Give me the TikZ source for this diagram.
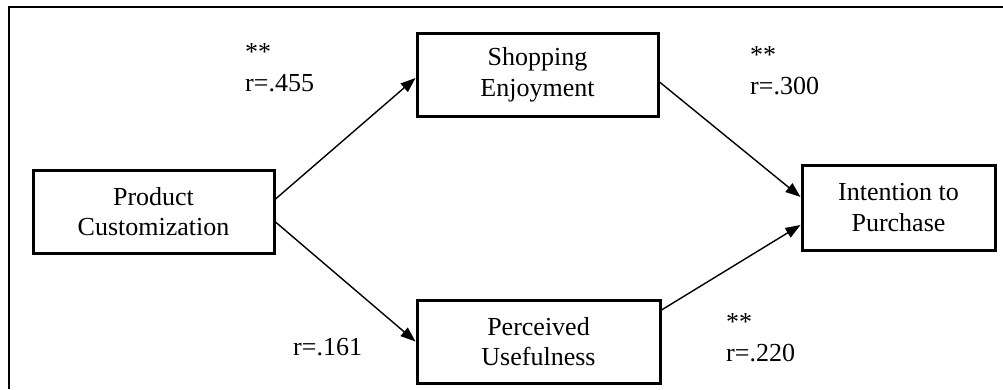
\documentclass[tikz,border=0pt]{standalone}
\usepackage{fontspec}
\setmainfont{Liberation Serif}
\usetikzlibrary{arrows.meta}
\begin{document}
\begin{tikzpicture}[x=1pt,y=-1pt,font=\fontsize{26}{30.5}\selectfont,
    varbox/.style={draw, line width=3pt, minimum width=241pt, minimum height=83pt, align=center, inner sep=0pt},
    rlabel/.style={anchor=south west, inner sep=0pt, align=left},
    link/.style={-{Triangle[length=15pt,width=11pt]}, line width=1.4pt}]
\useasboundingbox (0,0) rectangle (1003,389);
\draw[line width=2pt] (1003,7)--(9,7)--(9,389);

\node[varbox] (pc) at (153.5,211.5) {Product\\Customization};
\node[varbox] (se) at (537.5,75) {Shopping\\Enjoyment};
\node[varbox, minimum width=243pt] (pu) at (538.5,341.5) {Perceived\\Usefulness};
\node[varbox, minimum width=193pt, minimum height=85pt] (ip) at (898.5,207.5) {Intention to\\Purchase};

\draw[link] ([yshift=12.5pt]pc.east)--([yshift=-3pt]se.west);
\draw[link] ([yshift=-10.5pt]pc.east)--(pu.west);
\draw[link] ([yshift=-7pt]se.east)--([yshift=10.5pt]ip.west);
\draw[link] ([yshift=31.5pt]pu.east)--([yshift=-17.5pt]ip.west);

\node[rlabel] (r455) at (245,92) {**\\r=.455};
\node[rlabel] (r300) at (750,95) {**\\r=.300};
\node[rlabel] (r161) at (293,356) {r=.161};
\node[rlabel] (r220) at (726,362) {**\\r=.220};
\end{tikzpicture}
\end{document}
